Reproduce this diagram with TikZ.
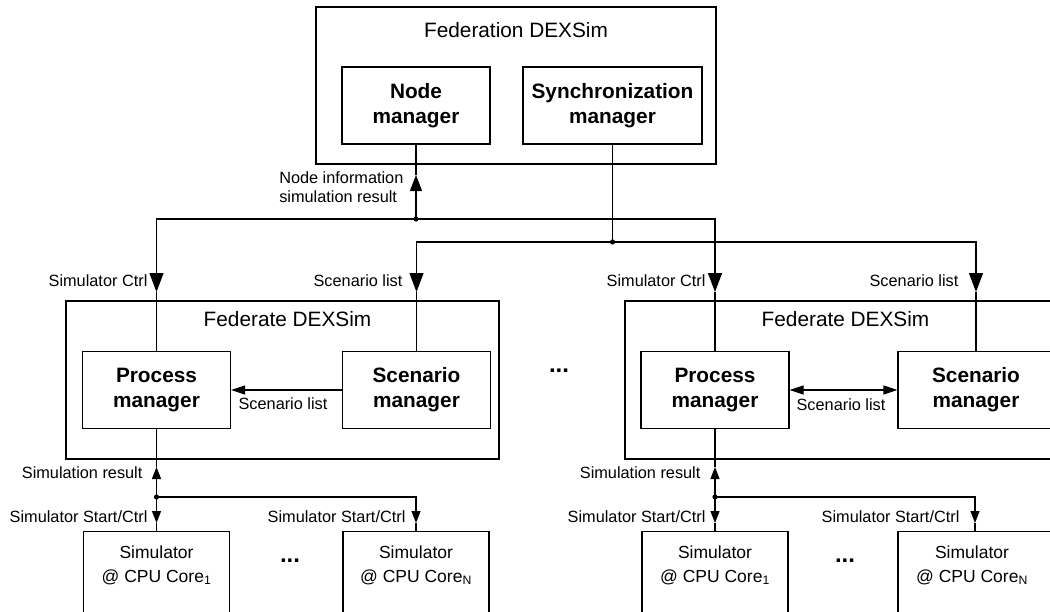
\documentclass[tikz,border=0pt]{standalone}
\usepackage{fontspec}
\setmainfont{Liberation Sans}
\usepackage{tikz}
\usetikzlibrary{arrows.meta}

\begin{document}
\begin{tikzpicture}[x=1pt, y=-1pt, line width=1.2pt,
    bigtip/.style={-{Triangle[length=19pt,width=14pt]}},
    midtip/.style={-{Triangle[length=16pt,width=12pt]}},
    smalltip/.style={-{Triangle[length=12pt,width=9pt]}},
    sidetip/.style={-{Triangle[length=14pt,width=9pt]}},
    grouptitle/.style={anchor=north, font=\fontsize{20.8}{25}\selectfont},
    simtext/.style={anchor=center, align=center, font=\fontsize{17.5}{24}\selectfont}]

      \useasboundingbox (0,0) rectangle (1050,611);
      \clip (0,0) rectangle (1050,611);

      % outer boxes
      \begin{scope}[every node/.style={draw, line width=1.2pt}]
        \node[minimum width=400pt, minimum height=157pt,
              label={[grouptitle, yshift=-12pt]north:Federation DEXSim}] (fed) at (516,85.5) {};
        \node[minimum width=433pt, minimum height=158pt,
              label={[grouptitle, yshift=-7pt, xshift=5pt]north:Federate DEXSim}] (fedL) at (282.5,380) {};
        \node[minimum width=433pt, minimum height=158pt,
              label={[grouptitle, yshift=-7pt, xshift=4pt]north:Federate DEXSim}] (fedR) at (841.5,380) {};
      \end{scope}

      % managers
      \begin{scope}[every node/.style={draw, line width=1.2pt, align=center,
          minimum width=148pt, minimum height=77pt,
          font=\fontsize{20.8}{25}\selectfont\bfseries}]
        \node (nodemgr) at (416,105.5) {Node\\manager};
        \node[minimum width=179pt] (syncmgr) at (612.5,105.5) {Synchronization\\manager};
        \node (procL) at (156.5,390) {Process\\manager};
        \node (scenL) at (416.5,390) {Scenario\\manager};
        \node (procR) at (715,390) {Process\\manager};
        \node[minimum width=156pt] (scenR) at (976,390) {Scenario\\manager};
      \end{scope}

      % simulators
      \begin{scope}[every node/.style={draw, line width=1.2pt, anchor=north,
          minimum width=146pt, minimum height=120pt}]
        \node[label={[simtext, yshift=-34pt]north:Simulator\\@ CPU Core\textsubscript{1}}] (simL1) at (156.5,531) {};
        \node[label={[simtext, yshift=-34pt]north:Simulator\\@ CPU Core\textsubscript{N}}] (simLN) at (416,531) {};
        \node[label={[simtext, yshift=-34pt]north:Simulator\\@ CPU Core\textsubscript{1}}] (simR1) at (715,531) {};
        \node[minimum width=154pt,
              label={[simtext, yshift=-34pt, xshift=-3pt]north:Simulator\\@ CPU Core\textsubscript{N}}] (simRN) at (975,531) {};
      \end{scope}

      \coordinate (jA) at (416,219);
      \coordinate (jB) at (612.5,242);
      \coordinate (infotip) at (416,175);
      \coordinate (ctrlL) at (156.5,292);
      \coordinate (listL) at (416.5,292);
      \coordinate (ctrlR) at (715,292);
      \coordinate (listR) at (976,292);

      \coordinate (resL) at (156.5,467);
      \coordinate (jC) at (156.5,497);
      \coordinate (startL1) at (156.5,523);
      \coordinate (startLN) at (416,523);
      \coordinate (resR) at (715,467);
      \coordinate (jD) at (715,497);
      \coordinate (startR1) at (715,523);
      \coordinate (startRN) at (975,523);

      % federation <-> federates
      \draw[midtip] (jA) -- (infotip);
      \draw (infotip) -- (nodemgr.south);
      \draw[bigtip] (jA) -| (ctrlL);
      \draw (ctrlL) -- (procL.north);
      \draw[bigtip] (jA) -| (ctrlR);
      \draw (ctrlR) -- (procR.north);
      \draw (syncmgr.south) -- (jB);
      \draw[bigtip] (jB) -| (listL);
      \draw (listL) -- (scenL.north);
      \draw[bigtip] (jB) -| (listR);
      \draw (listR) -- (scenR.north);

      % inside the federates
      \draw[sidetip] (scenL) -- (procL);
      \draw[{Triangle[length=14pt,width=9pt]}-{Triangle[length=14pt,width=9pt]}] (procR) -- (scenR);

      % federates <-> simulators
      \draw[smalltip] (jC) -- (resL);
      \draw (resL) -- (procL.south);
      \draw[smalltip] (jC) -- (startL1);
      \draw (startL1) -- (simL1.north);
      \draw[smalltip] (jC) -| (startLN);
      \draw (startLN) -- (simLN.north);
      \draw[smalltip] (jD) -- (resR);
      \draw (resR) -- (procR.south);
      \draw[smalltip] (jD) -- (startR1);
      \draw (startR1) -- (simR1.north);
      \draw[smalltip] (jD) -| (startRN);
      \draw (startRN) -- (simRN.north);

      \foreach \j in {jA,jB,jC,jD}
        \fill (\j) circle (2.6pt);

      % labels
      \begin{scope}[every node/.style={inner sep=0pt, anchor=east,
          font=\fontsize{16.3}{19.5}\selectfont}]
        \node[align=left] at (404,187) {Node information\\simulation result};
        \node at (148,281) {Simulator Ctrl};
        \node at (403,281) {Scenario list};
        \node at (706,281) {Simulator Ctrl};
        \node at (959,281) {Scenario list};
        \node[anchor=center] at (283,404) {Scenario list};
        \node[anchor=center] at (841,405) {Scenario list};
        \node at (143,473) {Simulation result};
        \node at (701,473) {Simulation result};
        \node at (148,517) {Simulator Start/Ctrl};
        \node at (406,517) {Simulator Start/Ctrl};
        \node at (706,517) {Simulator Start/Ctrl};
        \node at (960,517) {Simulator Start/Ctrl};
      \end{scope}

      \begin{scope}[every node/.style={font=\fontsize{24}{26}\selectfont\bfseries}]
        \node (gapF) at (559,371) {...};
        \node (gapL) at (290,561) {...};
        \node (gapR) at (845,561) {...};
      \end{scope}
    \end{tikzpicture}
\end{document}
